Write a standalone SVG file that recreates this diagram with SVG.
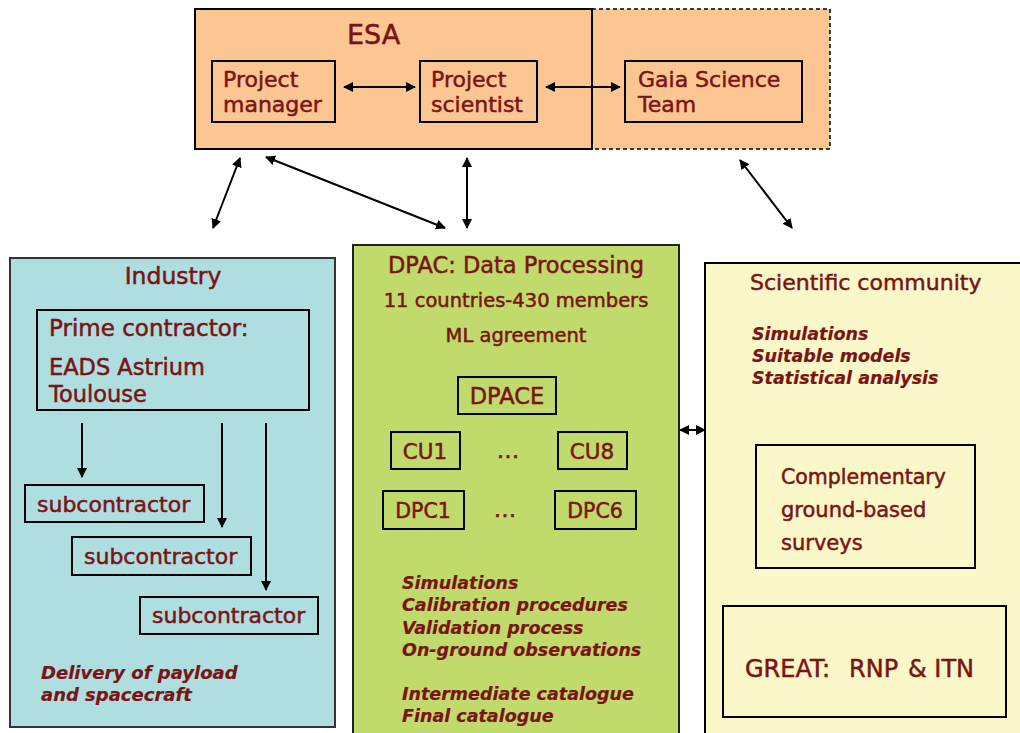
<svg xmlns="http://www.w3.org/2000/svg" width="1020" height="733" viewBox="0 0 1020 733">
<defs>
<marker id="ah" viewBox="0 0 10 10" refX="9" refY="5" markerWidth="10" markerHeight="10" markerUnits="userSpaceOnUse" orient="auto-start-reverse">
<path d="M0,0 L10,5 L0,10 z" fill="#000"/>
</marker>
<style>
text{font-family:"DejaVu Sans","Noto Sans",sans-serif;fill:#7a1414;stroke:#7a1414;stroke-width:0.5;}
.t{font-size:22.5px;}
.m{font-size:22px;}
.s{font-size:19.5px;}
.i{font-size:17.5px;font-style:italic;font-weight:bold;stroke-width:0.2;}
.b{fill:none;stroke:#000;stroke-width:2;}
.c{fill:none;stroke:#000;stroke-width:2;marker-start:url(#ah);marker-end:url(#ah);}
.c1{fill:none;stroke:#000;stroke-width:2;marker-end:url(#ah);}
</style>
</defs>
<rect width="1020" height="733" fill="#fff"/>

<g id="esa">
<rect x="592" y="9" width="238" height="140" fill="#fbc692" stroke="#000" stroke-width="1.5" stroke-dasharray="4,3"/>
<rect x="195" y="9" width="397" height="140" fill="#fbc692" stroke="#000" stroke-width="2"/>
<text x="347" y="44" style="font-size:27px">ESA</text>
</g>
<g id="pm">
<rect class="b" x="212" y="61" width="123" height="61"/>
<text class="t" x="223" y="87" style="font-size:22px">Project</text>
<text class="t" x="223" y="112" style="font-size:22px">manager</text>
</g>
<g id="ps">
<rect class="b" x="420" y="61" width="117" height="61"/>
<text class="t" x="431" y="87" style="font-size:22px">Project</text>
<text class="t" x="431" y="112" style="font-size:22px">scientist</text>
</g>
<g id="gst">
<rect class="b" x="625" y="61" width="177" height="61"/>
<text class="t" x="638" y="87" style="font-size:22px">Gaia Science</text>
<text class="t" x="638" y="112" style="font-size:22px">Team</text>
</g>

<g id="industry">
<rect x="10" y="258" width="325" height="469" fill="#aedee0" stroke="#333" stroke-width="2"/>
<text class="t" x="173" y="284" text-anchor="middle" style="font-size:23.5px">Industry</text>
<rect class="b" x="37" y="310" width="272" height="100"/>
<text class="t" x="49" y="336" style="font-size:23px">Prime contractor:</text>
<text class="t" x="49" y="375" style="font-size:22.5px">EADS Astrium</text>
<text class="t" x="49" y="402" style="font-size:22.5px">Toulouse</text>
<text class="i" x="41" y="679" style="font-size:18px">Delivery of payload</text>
<text class="i" x="41" y="701" style="font-size:18px">and spacecraft</text>
</g>
<g id="sub1">
<rect class="b" x="25" y="485" width="179" height="37"/>
<text class="m" x="37" y="512">subcontractor</text>
</g>
<g id="sub2">
<rect class="b" x="72" y="537" width="179" height="38"/>
<text class="m" x="84" y="564">subcontractor</text>
</g>
<g id="sub3">
<rect class="b" x="140" y="597" width="178" height="37"/>
<text class="m" x="152" y="623">subcontractor</text>
</g>

<g id="dpac">
<rect x="353" y="245" width="326" height="495" fill="#c0da6c" stroke="#222" stroke-width="2"/>
<text class="t" x="516" y="273" text-anchor="middle">DPAC: Data Processing</text>
<text class="s" x="516" y="307" text-anchor="middle">11 countries-430 members</text>
<text class="s" x="516" y="342" text-anchor="middle">ML agreement</text>
<text class="t" x="508" y="458" text-anchor="middle">…</text>
<text class="t" x="505" y="517" text-anchor="middle">…</text>
<text class="i" x="402" y="589">Simulations</text>
<text class="i" x="402" y="611">Calibration procedures</text>
<text class="i" x="402" y="634">Validation process</text>
<text class="i" x="402" y="656">On-ground observations</text>
<text class="i" x="402" y="700">Intermediate catalogue</text>
<text class="i" x="402" y="722">Final catalogue</text>
</g>
<g id="dpace">
<rect class="b" x="458" y="377" width="98" height="37"/>
<text class="t" x="507" y="404" text-anchor="middle">DPACE</text>
</g>
<g id="cu1">
<rect class="b" x="391" y="432" width="69" height="37"/>
<text class="t" x="425" y="459" text-anchor="middle" style="font-size:21.5px">CU1</text>
</g>
<g id="cu8">
<rect class="b" x="558" y="432" width="69" height="37"/>
<text class="t" x="592" y="459" text-anchor="middle" style="font-size:21.5px">CU8</text>
</g>
<g id="dpc1">
<rect class="b" x="383" y="491" width="81" height="38"/>
<text class="t" x="423" y="518" text-anchor="middle" style="font-size:20.5px">DPC1</text>
</g>
<g id="dpc6">
<rect class="b" x="555" y="491" width="81" height="38"/>
<text class="t" x="595" y="518" text-anchor="middle" style="font-size:20.5px">DPC6</text>
</g>

<g id="science">
<rect x="705" y="263" width="330" height="480" fill="#faf7c8" stroke="#000" stroke-width="2"/>
<text class="t" x="750" y="290" style="font-size:22px">Scientific community</text>
<text class="i" x="752" y="340">Simulations</text>
<text class="i" x="752" y="362">Suitable models</text>
<text class="i" x="752" y="384">Statistical analysis</text>
</g>
<g id="complementary">
<rect class="b" x="756" y="445" width="219" height="123"/>
<text class="t" x="781" y="484" style="font-size:20.5px">Complementary</text>
<text class="t" x="781" y="517" style="font-size:21px">ground-based</text>
<text class="t" x="781" y="550" style="font-size:21px">surveys</text>
</g>
<g id="great">
<rect class="b" x="723" y="606" width="283" height="111"/>
<text class="t" y="677" style="font-size:24px"><tspan x="745">GREAT:</tspan><tspan x="849">RNP</tspan><tspan x="908">&amp; ITN</tspan></text>
</g>

<g id="connectors">
<line class="c" x1="344" y1="87" x2="415" y2="87"/>
<line class="c" x1="546" y1="87" x2="620" y2="87"/>
<line class="c" x1="240" y1="158" x2="213" y2="228"/>
<line class="c" x1="266" y1="157" x2="445" y2="228"/>
<line class="c" x1="467" y1="158" x2="467" y2="228"/>
<line class="c" x1="740" y1="160" x2="792" y2="228"/>
<line class="c" x1="680" y1="430" x2="705" y2="430"/>
<line class="c1" x1="82" y1="423" x2="82" y2="477"/>
<line class="c1" x1="222" y1="423" x2="222" y2="527"/>
<line class="c1" x1="266" y1="423" x2="266" y2="590"/>
</g>
</svg>
